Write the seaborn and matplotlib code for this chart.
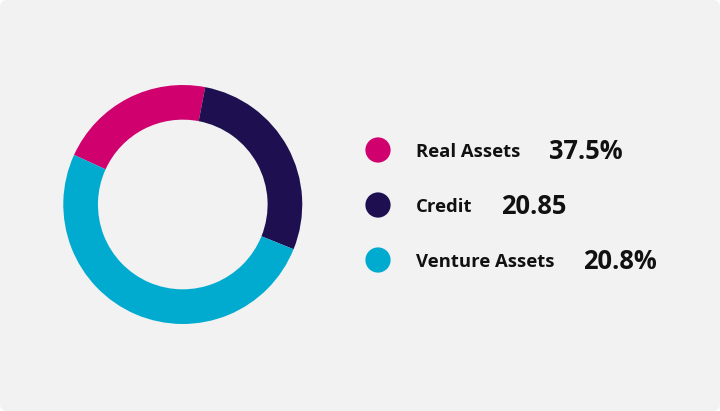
import pandas as pd
import matplotlib.pyplot as plt
import seaborn as sns
from matplotlib.patches import FancyBboxPatch


# Portfolio allocation donut

categories = ["Real Assets", "Credit", "Venture Assets"]
value_labels = ["37.5%", "20.85", "20.8%"]
slice_shares = [21.2, 28.1, 50.7]
colors = ["#d0006f", "#1e1050", "#00abcf"]

# layout (pixels) for the value column of each legend row
value_x = [549, 501, 583]

sns.set_theme(style="white")
plt.rcParams['font.family'] = ['Open Sans', 'DejaVu Sans']

fig = plt.figure(figsize=(7.2, 4.11), dpi=100)
fig.patch.set_facecolor("white")

# card background with rounded corners
bg = fig.add_axes([0, 0, 1, 1], zorder=0)
bg.set_xlim(0, 720)
bg.set_ylim(0, 411)
bg.axis("off")
bg.add_patch(FancyBboxPatch((0, 0), 720, 411, boxstyle="round,pad=0,rounding_size=7",
                            facecolor="#f2f2f2", edgecolor="none"))

# donut
ax = fig.add_axes([0.0879, 0.2117, 0.3319, 0.5815], zorder=1)
ax.pie(slice_shares, colors=colors, startangle=155.5, counterclock=False,
       radius=1, wedgeprops=dict(width=0.29, edgecolor="none", linewidth=0))
ax.set_xlim(-1, 1)
ax.set_ylim(-1, 1)
ax.axis("off")

# legend
leg = fig.add_axes([0, 0, 1, 1], zorder=2)
leg.patch.set_alpha(0)
legend_df = pd.DataFrame({"category": categories, "row": range(len(categories)), "x": 378})
sns.scatterplot(data=legend_df, x="x", y="row", hue="category", palette=colors,
                s=330, linewidth=0, legend=False, ax=leg)
leg.set_xlim(0, 720)
leg.set_ylim(4.745, -2.727)
leg.axis("off")

for i, (name, val) in enumerate(zip(categories, value_labels)):
    leg.text(416, i + 0.12, name, fontsize=13.3, fontweight="bold", color="#111111",
             ha="left", va="baseline")
    leg.text(value_x[i], i + 0.17, val, fontsize=18.4, fontweight="bold", color="#111111",
             ha="left", va="baseline")

plt.savefig("out.png", dpi=100, facecolor=fig.get_facecolor())
